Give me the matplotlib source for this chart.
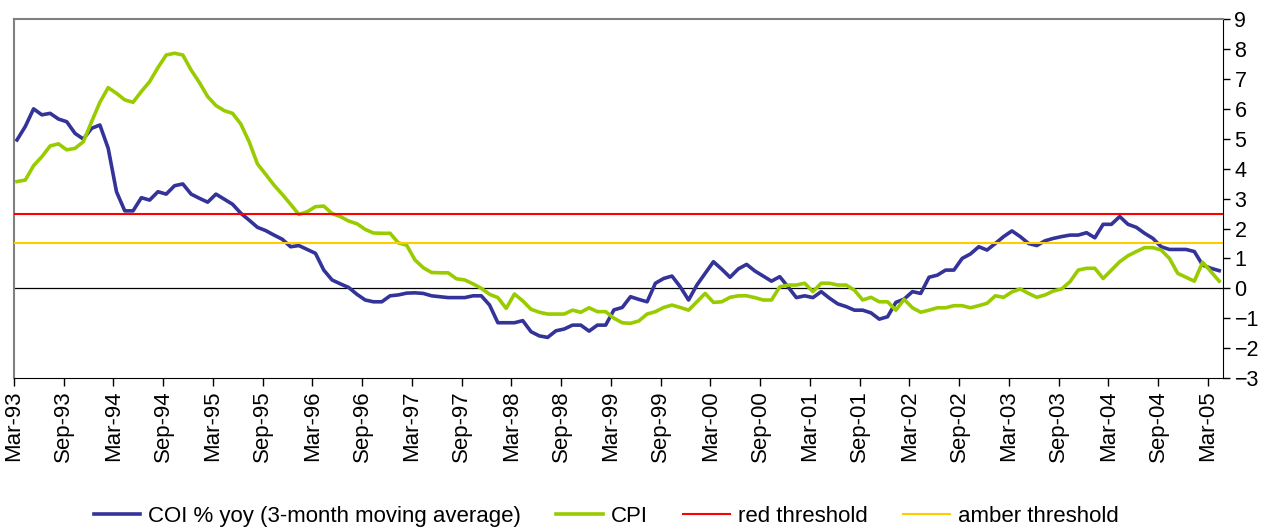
import numpy as np
import matplotlib.pyplot as plt

plt.rcParams["font.family"] = ["Liberation Sans", "DejaVu Sans"]

# monthly values, Mar-93 .. Apr-05
coi = [4.96, 5.41, 6.00, 5.80, 5.85, 5.66, 5.57, 5.18, 4.99, 5.35, 5.46, 4.68,
       3.23, 2.59, 2.59, 3.03, 2.95, 3.23, 3.15, 3.43, 3.49, 3.15, 3.01, 2.88,
       3.15, 2.98, 2.81, 2.51, 2.28, 2.04, 1.93, 1.78, 1.64, 1.39, 1.43, 1.30,
       1.17, 0.61, 0.28, 0.15, 0.03, -0.20, -0.39, -0.45, -0.45, -0.25, -0.22, -0.16,
       -0.15, -0.17, -0.25, -0.28, -0.31, -0.31, -0.31, -0.25, -0.25, -0.56, -1.15, -1.15,
       -1.15, -1.08, -1.45, -1.59, -1.64, -1.42, -1.36, -1.23, -1.23, -1.43, -1.23, -1.23,
       -0.72, -0.64, -0.28, -0.37, -0.45, 0.17, 0.33, 0.41, 0.05, -0.39, 0.11, 0.50,
       0.89, 0.64, 0.37, 0.65, 0.80, 0.58, 0.41, 0.24, 0.39, 0.05, -0.31, -0.25,
       -0.31, -0.11, -0.33, -0.52, -0.61, -0.73, -0.73, -0.82, -1.03, -0.95, -0.47, -0.36,
       -0.11, -0.17, 0.37, 0.44, 0.61, 0.61, 1.00, 1.15, 1.39, 1.28, 1.50, 1.73,
       1.92, 1.73, 1.50, 1.43, 1.59, 1.67, 1.73, 1.78, 1.78, 1.86, 1.69, 2.14,
       2.14, 2.40, 2.14, 2.04, 1.84, 1.67, 1.39, 1.30, 1.30, 1.30, 1.23, 0.78,
       0.67, 0.59]

cpi = [3.57, 3.62, 4.10, 4.40, 4.76, 4.83, 4.63, 4.68, 4.90, 5.57, 6.22, 6.71,
       6.52, 6.30, 6.22, 6.58, 6.91, 7.38, 7.80, 7.86, 7.80, 7.30, 6.88, 6.41,
       6.11, 5.94, 5.85, 5.49, 4.90, 4.16, 3.81, 3.45, 3.14, 2.81, 2.47, 2.56,
       2.73, 2.75, 2.50, 2.40, 2.25, 2.16, 1.97, 1.85, 1.84, 1.84, 1.52, 1.44,
       0.95, 0.69, 0.53, 0.52, 0.52, 0.32, 0.28, 0.15, 0.00, -0.20, -0.31, -0.67,
       -0.19, -0.42, -0.70, -0.80, -0.86, -0.86, -0.86, -0.73, -0.80, -0.65, -0.78, -0.78,
       -1.00, -1.15, -1.17, -1.09, -0.86, -0.78, -0.64, -0.56, -0.64, -0.73, -0.45, -0.17,
       -0.47, -0.45, -0.30, -0.25, -0.25, -0.31, -0.39, -0.39, 0.05, 0.11, 0.11, 0.17,
       -0.11, 0.17, 0.17, 0.11, 0.11, -0.06, -0.39, -0.30, -0.45, -0.45, -0.73, -0.37,
       -0.65, -0.80, -0.73, -0.65, -0.65, -0.58, -0.58, -0.65, -0.58, -0.50, -0.25, -0.30,
       -0.12, -0.02, -0.17, -0.30, -0.22, -0.09, -0.02, 0.22, 0.61, 0.67, 0.67, 0.33,
       0.61, 0.89, 1.09, 1.23, 1.36, 1.36, 1.28, 1.00, 0.50, 0.37, 0.24, 0.87,
       0.56, 0.24]

red_threshold = 2.5
amber_threshold = 1.5

tick_labels = ["Mar-93", "Sep-93", "Mar-94", "Sep-94", "Mar-95", "Sep-95",
               "Mar-96", "Sep-96", "Mar-97", "Sep-97", "Mar-98", "Sep-98",
               "Mar-99", "Sep-99", "Mar-00", "Sep-00", "Mar-01", "Sep-01",
               "Mar-02", "Sep-02", "Mar-03", "Sep-03", "Mar-04", "Sep-04",
               "Mar-05"]

months = np.arange(len(coi))
tick_pos = np.arange(len(tick_labels)) * 6 - 0.36

fig = plt.figure(figsize=(12.73, 5.31), dpi=100)
ax = fig.add_axes([0.011, 0.288, 0.950, 0.676])

ax.axhline(0, color="black", linewidth=0.9, zorder=1)
ax.plot(months, coi, color="#333399", linewidth=2.6, label="COI % yoy (3-month moving average)", zorder=2)
ax.plot(months, cpi, color="#99CC00", linewidth=2.6, label="CPI", zorder=3)
ax.axhline(red_threshold, color="#FF0000", linewidth=1.5, label="red threshold", zorder=4)
ax.axhline(amber_threshold, color="#FFCC00", linewidth=1.5, label="amber threshold", zorder=4)

ax.set_xlim(-0.36, 145.5)
ax.set_ylim(-3, 9)
ax.set_yticks(range(-3, 10))
ax.yaxis.tick_right()
ax.tick_params(axis="y", direction="out", length=5, width=1, labelsize=15.5, pad=3)
ax.set_xticks(tick_pos)
ax.set_xticklabels(tick_labels, rotation=90, fontsize=16)
ax.tick_params(axis="x", direction="out", length=6, width=1, pad=3)

ax.spines["top"].set_color("#808080")
ax.spines["left"].set_color("#808080")
ax.spines["top"].set_linewidth(1.5)
ax.spines["left"].set_linewidth(1.5)
ax.spines["bottom"].set_color("black")
ax.spines["right"].set_color("black")

fig.legend(loc="center", bbox_to_anchor=(0.476, 0.027), ncol=4, frameon=False,
           fontsize=16, handlelength=2.1, columnspacing=1.6, handletextpad=0.35)

fig.savefig("out.png", dpi=100)
